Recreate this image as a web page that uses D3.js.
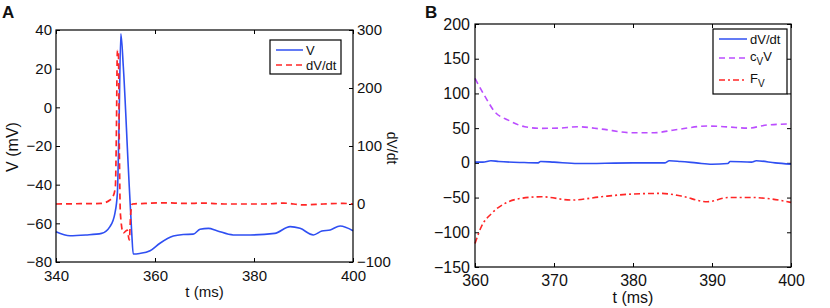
<!DOCTYPE html>
<html>
<head>
<meta charset="utf-8">
<script src="https://cdn.jsdelivr.net/npm/d3@7"></script>
<style>
  body { margin: 0; background: #fff; }
  text { font-family: "Liberation Sans", Arial, sans-serif; fill: #111; }
</style>
</head>
<body>
<script>
// panel A: membrane potential V (left axis) and dV/dt (right axis)
var tV  = [340, 342.8, 346, 349.2, 350.9, 351.9, 352.4, 352.7, 353.1, 353.6, 354.6, 355.3, 355.6, 356.9, 359, 361, 363.7, 365.7, 367.7, 369.1, 370.8, 372.5, 375.8, 379.2, 384.2, 387.3, 389.3, 392, 393.7, 395.4, 397.4, 400];
var vA  = [-64.3, -66.4, -66, -65.2, -61.7, -54.8, -44.4, -13.4, 38, 21, -30.7, -65, -75.9, -75.6, -74.2, -70.3, -66.6, -65.8, -65.6, -63.1, -62.6, -63.8, -66, -66, -65.2, -61.7, -62.6, -66, -64, -63.4, -61.4, -63.8];
var tDA = [340, 345, 349.1, 350.9, 351.5, 352, 352.2, 352.4, 352.6, 352.8, 353, 353.6, 354.4, 354.8, 355.1, 355.4, 358, 362, 366, 370, 374, 378, 382, 386, 390, 394, 398, 400];
var dvA = [0, 0.5, 1, 6.9, 12.6, 30, 122, 265, 265, 93, -16, -50, -45, -62, -16, 0, 1, 2, 1, 1.5, 0, 0, 0, 1.5, -1.5, 0, 1, 0];
var ticksAx = [340, 360, 380, 400];
var ticksAv = [-80, -60, -40, -20, 0, 20, 40];
var ticksAd = [-100, 0, 100, 200, 300];

// panel B: dV/dt, c_V V and F_V
var tB  = [360, 361.3, 362.5, 364.2, 366.3, 368.4, 370.5, 373, 376, 379.8, 382.7, 385.2, 389.4, 392, 394.5, 397, 400];
var cvB = [121.7, 95, 73.6, 61.6, 52, 49.7, 50, 52, 48.7, 43.4, 43.4, 47.3, 53, 51.8, 50, 54.5, 56];
var tF  = [360, 360.8, 362.1, 363.8, 365.9, 368.4, 372.2, 376, 379.8, 383.6, 386.1, 389.4, 392, 394.9, 397.5, 400];
var fvB = [-116, -92, -72.8, -58.4, -51, -48.8, -53.6, -48.8, -45, -44, -47.8, -56, -50, -49.8, -52, -57];
var tDB = [360, 361, 362, 363, 366, 368, 368.3, 370, 373, 380, 384, 384.6, 386, 388, 390, 392, 392.3, 395, 395.6, 398, 400];
var dvB = [1, 1, 3, 2, 0.5, 0, 2, 1, -1, 0, 0, 3, 2, 0, -2, -1, 2, 1, 3, 0, -2];
var ticksBx = [360, 370, 380, 390, 400];
var ticksBy = [-150, -100, -50, 0, 50, 100, 150, 200];

var blue = "#2f4ff2", red = "#ff2626", violet = "#bb4dff";
var minus = function(d) { return String(d).replace("-", "\u2212"); };

var svg = d3.select("body").append("svg")
    .attr("width", 830)
    .attr("height", 308);

function axisBox(g, w, h) {
  g.append("rect")
      .attr("width", w)
      .attr("height", h)
      .attr("fill", "none")
      .attr("stroke", "#000")
      .attr("stroke-width", 1.2);
}

function styleAxis(size) {
  return function(sel) {
    sel.select(".domain").remove();
    sel.selectAll(".tick line").attr("stroke", "#000");
    sel.selectAll(".tick text").attr("font-size", size + "px").style("font-family", "Liberation Sans, Arial, sans-serif");
  };
}

// ---------- panel A ----------
var aL = 56, aT = 30, aW = 297, aH = 232;
var gA = svg.append("g").attr("transform", "translate(" + aL + "," + aT + ")");

var xA = d3.scaleLinear().domain([340, 400]).range([0, aW]);
var yA = d3.scaleLinear().domain([-80, 40]).range([aH, 0]);
var yD = d3.scaleLinear().domain([-100, 300]).range([aH, 0]);

gA.append("g").attr("transform", "translate(0," + aH + ")")
    .call(d3.axisBottom(xA).tickValues(ticksAx).tickSize(-4).tickPadding(8).tickFormat(minus))
    .call(styleAxis(15));
gA.append("g")
    .call(d3.axisTop(xA).tickValues(ticksAx).tickSize(-4).tickFormat(""))
    .call(styleAxis(15));
gA.append("g")
    .call(d3.axisLeft(yA).tickValues(ticksAv).tickSize(-4).tickPadding(4).tickFormat(minus))
    .call(styleAxis(15));
gA.append("g").attr("transform", "translate(" + aW + ",0)")
    .call(d3.axisRight(yD).tickValues(ticksAd).tickSize(-4).tickPadding(4).tickFormat(minus))
    .call(styleAxis(15));

var lineV = d3.line()
    .x(function(d, i) { return xA(tV[i]); })
    .y(function(d) { return yA(d); })
    .curve(d3.curveMonotoneX);
var lineDA = d3.line()
    .x(function(d, i) { return xA(tDA[i]); })
    .y(function(d) { return yD(d); })
    .curve(d3.curveMonotoneX);

gA.append("path").datum(vA)
    .attr("d", lineV)
    .attr("fill", "none")
    .attr("stroke", blue)
    .attr("stroke-width", 1.6);
gA.append("path").datum(dvA)
    .attr("d", lineDA)
    .attr("fill", "none")
    .attr("stroke", red)
    .attr("stroke-width", 1.7)
    .attr("stroke-dasharray", "6,4");

axisBox(gA, aW, aH);

// legend A
var legA = gA.append("g").attr("transform", "translate(" + (270 - aL) + "," + (40 - aT) + ")");
legA.append("rect").attr("width", 71).attr("height", 34)
    .attr("fill", "#fff").attr("stroke", "#000").attr("stroke-width", 1.2);
legA.append("line").attr("x1", 6).attr("x2", 33).attr("y1", 10).attr("y2", 10)
    .attr("stroke", blue).attr("stroke-width", 1.5);
legA.append("line").attr("x1", 6).attr("x2", 33).attr("y1", 25).attr("y2", 25)
    .attr("stroke", red).attr("stroke-width", 1.6).attr("stroke-dasharray", "6,4");
legA.append("text").attr("x", 36).attr("y", 14.5).attr("font-size", "13px").text("V");
legA.append("text").attr("x", 36).attr("y", 29.5).attr("font-size", "13px").text("dV/dt");

svg.append("text").attr("x", (aL + aL + aW) / 2).attr("y", 297)
    .attr("text-anchor", "middle").attr("font-size", "15px").text("t (ms)");
svg.append("text").attr("transform", "translate(18,147) rotate(-90)")
    .attr("text-anchor", "middle").attr("font-size", "16px").text("V (mV)");
svg.append("text").attr("transform", "translate(387,148) rotate(90)")
    .attr("text-anchor", "middle").attr("font-size", "14px").text("dV/dt");
svg.append("text").attr("x", 2).attr("y", 18)
    .attr("font-size", "17px").attr("font-weight", "bold").text("A");

// ---------- panel B ----------
var bL = 475, bT = 24, bW = 316, bH = 243;
var gB = svg.append("g").attr("transform", "translate(" + bL + "," + bT + ")");

var xB = d3.scaleLinear().domain([360, 400]).range([0, bW]);
var yB = d3.scaleLinear().domain([-150, 200]).range([bH, 0]);

gB.append("g").attr("transform", "translate(0," + bH + ")")
    .call(d3.axisBottom(xB).tickValues(ticksBx).tickSize(-4).tickPadding(8).tickFormat(minus))
    .call(styleAxis(16));
gB.append("g")
    .call(d3.axisTop(xB).tickValues(ticksBx).tickSize(-4).tickFormat(""))
    .call(styleAxis(16));
gB.append("g")
    .call(d3.axisLeft(yB).tickValues(ticksBy).tickSize(-4).tickPadding(5).tickFormat(minus))
    .call(styleAxis(16));
gB.append("g").attr("transform", "translate(" + bW + ",0)")
    .call(d3.axisRight(yB).tickValues(ticksBy).tickSize(-4).tickFormat(""))
    .call(styleAxis(16));

function seriesB(ts, vals, color, dash) {
  var line = d3.line()
      .x(function(d, i) { return xB(ts[i]); })
      .y(function(d) { return yB(d); })
      .curve(d3.curveMonotoneX);
  gB.append("path").datum(vals)
      .attr("d", line)
      .attr("fill", "none")
      .attr("stroke", color)
      .attr("stroke-width", 1.6)
      .attr("stroke-dasharray", dash);
}
seriesB(tDB, dvB, blue, null);
seriesB(tB, cvB, violet, "6,4");
seriesB(tF, fvB, red, "6,3,2,3");

axisBox(gB, bW, bH);

// legend B
var legB = gB.append("g").attr("transform", "translate(" + (713 - bL) + "," + (29 - bT) + ")");
legB.append("rect").attr("width", 74).attr("height", 65)
    .attr("fill", "#fff").attr("stroke", "#000").attr("stroke-width", 1.2);
var rowsB = [
  {y: 10, color: blue, dash: null},
  {y: 29, color: violet, dash: "6,4"},
  {y: 51, color: red, dash: "6,3,2,3"}
];
rowsB.forEach(function(r) {
  legB.append("line").attr("x1", 6).attr("x2", 34).attr("y1", r.y).attr("y2", r.y)
      .attr("stroke", r.color).attr("stroke-width", 1.5).attr("stroke-dasharray", r.dash);
});
legB.append("text").attr("x", 37).attr("y", 15).attr("font-size", "13px").text("dV/dt");
var tc = legB.append("text").attr("x", 37).attr("y", 32).attr("font-size", "13px");
tc.append("tspan").text("c");
tc.append("tspan").attr("dy", 4).attr("font-size", "10px").text("V");
tc.append("tspan").attr("dy", -4).text("V");
var tf = legB.append("text").attr("x", 37).attr("y", 54).attr("font-size", "13px");
tf.append("tspan").text("F");
tf.append("tspan").attr("dy", 4).attr("font-size", "10px").text("V");

svg.append("text").attr("x", bL + bW / 2).attr("y", 303)
    .attr("text-anchor", "middle").attr("font-size", "16px").text("t (ms)");
svg.append("text").attr("x", 425).attr("y", 18)
    .attr("font-size", "17px").attr("font-weight", "bold").text("B");
</script>
</body>
</html>
